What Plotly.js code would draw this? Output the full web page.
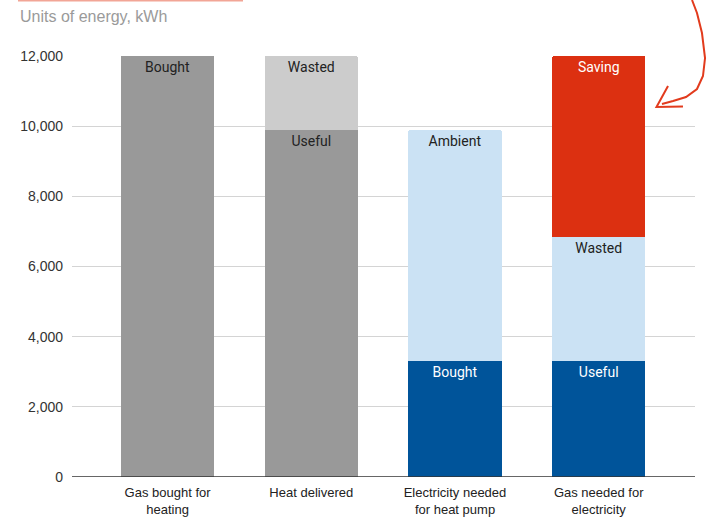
<!DOCTYPE html>
<html>
<head>
<meta charset="utf-8">
<script src="https://cdn.plot.ly/plotly-3.0.1.min.js"></script>
<style>
  html, body { margin: 0; padding: 0; background: #fff; }
  #chart { width: 709px; height: 517px; }
</style>
</head>
<body>
<div id="chart"></div>
<script>
// Categories along the x axis
const categories = [
  "Gas bought for<br>heating",
  "Heat delivered",
  "Electricity needed<br>for heat pump",
  "Gas needed for<br>electricity"
];

// Stacked segments, bottom to top (kWh)
const baseValues   = [12000, 9900, 3300, 3300];
const baseLabels   = ["Bought", "Useful", "Bought", "Useful"];
const middleValues = [0, 2100, 6600, 3550];
const middleLabels = ["", "Wasted", "Ambient", "Wasted"];
const topValues    = [0, 0, 0, 5150];
const topLabels    = ["", "", "", "Saving"];

// Y axis ticks
const yTicks = [0, 2000, 4000, 6000, 8000, 10000, 12000];

const GREY = "#999999", LIGHT_GREY = "#cccccc";
const BLUE = "#00549a", LIGHT_BLUE = "#cbe2f4", RED = "#dc3011";

const labelFont = (colors) => ({ family: "Roboto, sans-serif", size: 14, color: colors });

const commonBar = {
  type: "bar",
  x: categories,
  textposition: "inside",
  insidetextanchor: "end",
  texttemplate: "%{text}",
  hoverinfo: "skip",
  cliponaxis: false,
  constraintext: "none"
};

const traces = [
  Object.assign({}, commonBar, {
    y: baseValues,
    text: baseLabels,
    marker: { color: [GREY, GREY, BLUE, BLUE], line: { width: 0 } },
    insidetextfont: labelFont(["#222", "#222", "#fff", "#fff"])
  }),
  Object.assign({}, commonBar, {
    y: middleValues,
    text: middleLabels,
    marker: { color: [LIGHT_GREY, LIGHT_GREY, LIGHT_BLUE, LIGHT_BLUE], line: { width: 0 } },
    insidetextfont: labelFont(["#222", "#222", "#222", "#222"])
  }),
  Object.assign({}, commonBar, {
    y: topValues,
    text: topLabels,
    marker: { color: RED, line: { width: 0 } },
    insidetextfont: labelFont("#fff")
  })
];

// Plot area in pixels, used to place the decorative arrow in paper units
const W = 709, H = 517;
const M = { l: 72, r: 14, t: 56, b: 40 };
const pw = W - M.l - M.r, ph = H - M.t - M.b;
const px = (x) => ((x - M.l) / pw).toFixed(4);
const py = (y) => ((H - M.b - y) / ph).toFixed(4);

const arrowShaft = [[692,0],[697,13],[702,33],[705,58],[703,76],[697,89],[686,97],[673,101],[662,104]];
const arrowPath = "M" + arrowShaft.map(p => px(p[0]) + "," + py(p[1])).join(" L");
const headPath = "M" + px(668) + "," + py(86) + " L" + px(656.5) + "," + py(107) +
                 " L" + px(683) + "," + py(106.5);

const layout = {
  width: W,
  height: H,
  margin: M,
  paper_bgcolor: "#fff",
  plot_bgcolor: "#fff",
  barmode: "stack",
  bargap: 0.35,
  barcornerradius: 2,
  showlegend: false,
  font: { family: "Liberation Sans, Arial, sans-serif", size: 14, color: "#222" },
  xaxis: {
    range: [-0.665, 3.67],
    showgrid: false,
    showline: false,
    zeroline: false,
    ticks: "",
    tickfont: { size: 13, color: "#222" },
    ticklabelstandoff: 6,
    fixedrange: true
  },
  yaxis: {
    range: [0, 12000],
    tickvals: yTicks,
    tickformat: ",",
    showgrid: true,
    gridcolor: "#d4d4d4",
    gridwidth: 1,
    zeroline: false,
    showline: false,
    ticks: "",
    tickfont: { size: 14, color: "#333" },
    ticklabelstandoff: 8,
    fixedrange: true
  },
  shapes: [
    // axis baseline
    { type: "line", xref: "paper", yref: "y", x0: 0, x1: 1, y0: 0, y1: 0,
      line: { color: "#333", width: 1.5 } },
    // title underline strip
    { type: "line", xref: "paper", yref: "paper",
      x0: px(18), x1: px(243), y0: py(0.5), y1: py(0.5),
      line: { color: "#f2a596", width: 2 } },
    // hand-drawn arrow towards the saving
    { type: "path", xref: "paper", yref: "paper", path: arrowPath,
      line: { color: "#e23b1d", width: 2 } },
    { type: "path", xref: "paper", yref: "paper", path: headPath,
      line: { color: "#e23b1d", width: 2 } }
  ],
  annotations: [
    { xref: "paper", yref: "paper", x: px(18), y: py(16), xanchor: "left", yanchor: "middle",
      text: "Units of energy, kWh", showarrow: false,
      font: { family: "Liberation Sans, Arial, sans-serif", size: 16, color: "#9a9a9a" } }
  ]
};

Plotly.newPlot("chart", traces, layout, { displayModeBar: false, staticPlot: true });
</script>
</body>
</html>
